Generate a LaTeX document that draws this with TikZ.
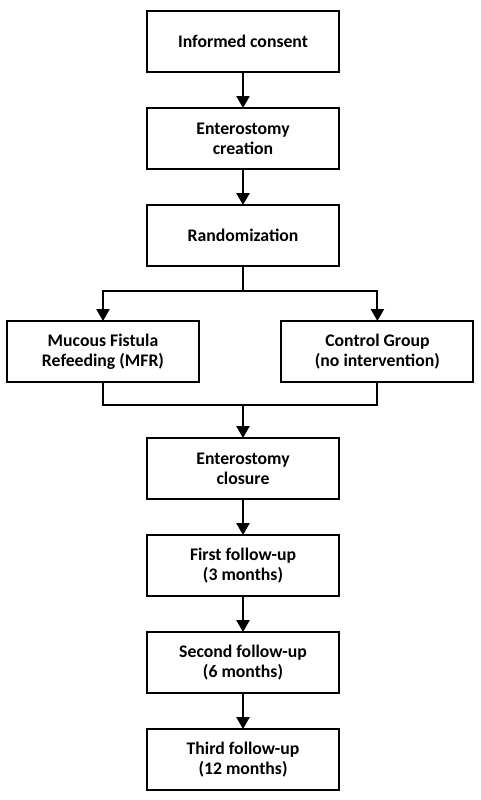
\documentclass[tikz,border=0pt]{standalone}
\usepackage{fontspec}
\setmainfont{Carlito}
\usetikzlibrary{arrows.meta, positioning, calc}
\tikzset{
  box/.style  = {draw=black, line width=1.4pt, align=center, outer sep=0pt,
                 font=\fontsize{12.6}{14.4}\selectfont\bfseries,
                 minimum width=4.8cm, minimum height=1.525cm},
  arr/.style  = {-{Triangle[length=0.3cm, width=0.33cm]}, line width=1.4pt},
  link/.style = {line width=1.4pt},
}
\begin{document}
\begin{tikzpicture}[node distance=0.9cm]
  \useasboundingbox (0,0) rectangle (12,-20);
  \node[box] (consent) at (6.075,-1.0375) {Informed consent};
  \node[box, below=of consent] (creation) {Enterostomy\\creation};
  \node[box, below=of creation] (rand) {Randomization};
  \node[box, below=1.375cm of rand, xshift=-3.5cm] (mfr) {Mucous Fistula\\Refeeding (MFR)};
  \node[box, below=1.375cm of rand, xshift=3.36cm] (ctrl) {Control Group\\(no intervention)};
  \node[box, below=4.3cm of rand] (closure) {Enterostomy\\closure};
  \node[box, below=of closure] (fu1) {First follow-up\\(3 months)};
  \node[box, below=of fu1] (fu2) {Second follow-up\\(6 months)};
  \node[box, below=of fu2] (fu3) {Third follow-up\\(12 months)};

  \draw[arr] (consent) -- (creation);
  \draw[arr] (creation) -- (rand);
  % split after randomization
  \coordinate (split) at ($(rand.south)+(0,-0.625)$);
  \draw[link] (rand.south) -- (split);
  \draw[arr] (split) -| (mfr.north);
  \draw[arr] (split) -| (ctrl.north);
  % join before closure
  \coordinate (join) at ($(mfr.south)+(0,-0.575)$);
  \draw[link] (mfr.south) -- (join) -| (ctrl.south);
  \draw[arr] (join -| closure.north) -- (closure.north);
  \draw[arr] (closure) -- (fu1);
  \draw[arr] (fu1) -- (fu2);
  \draw[arr] (fu2) -- (fu3);
\end{tikzpicture}
\end{document}
